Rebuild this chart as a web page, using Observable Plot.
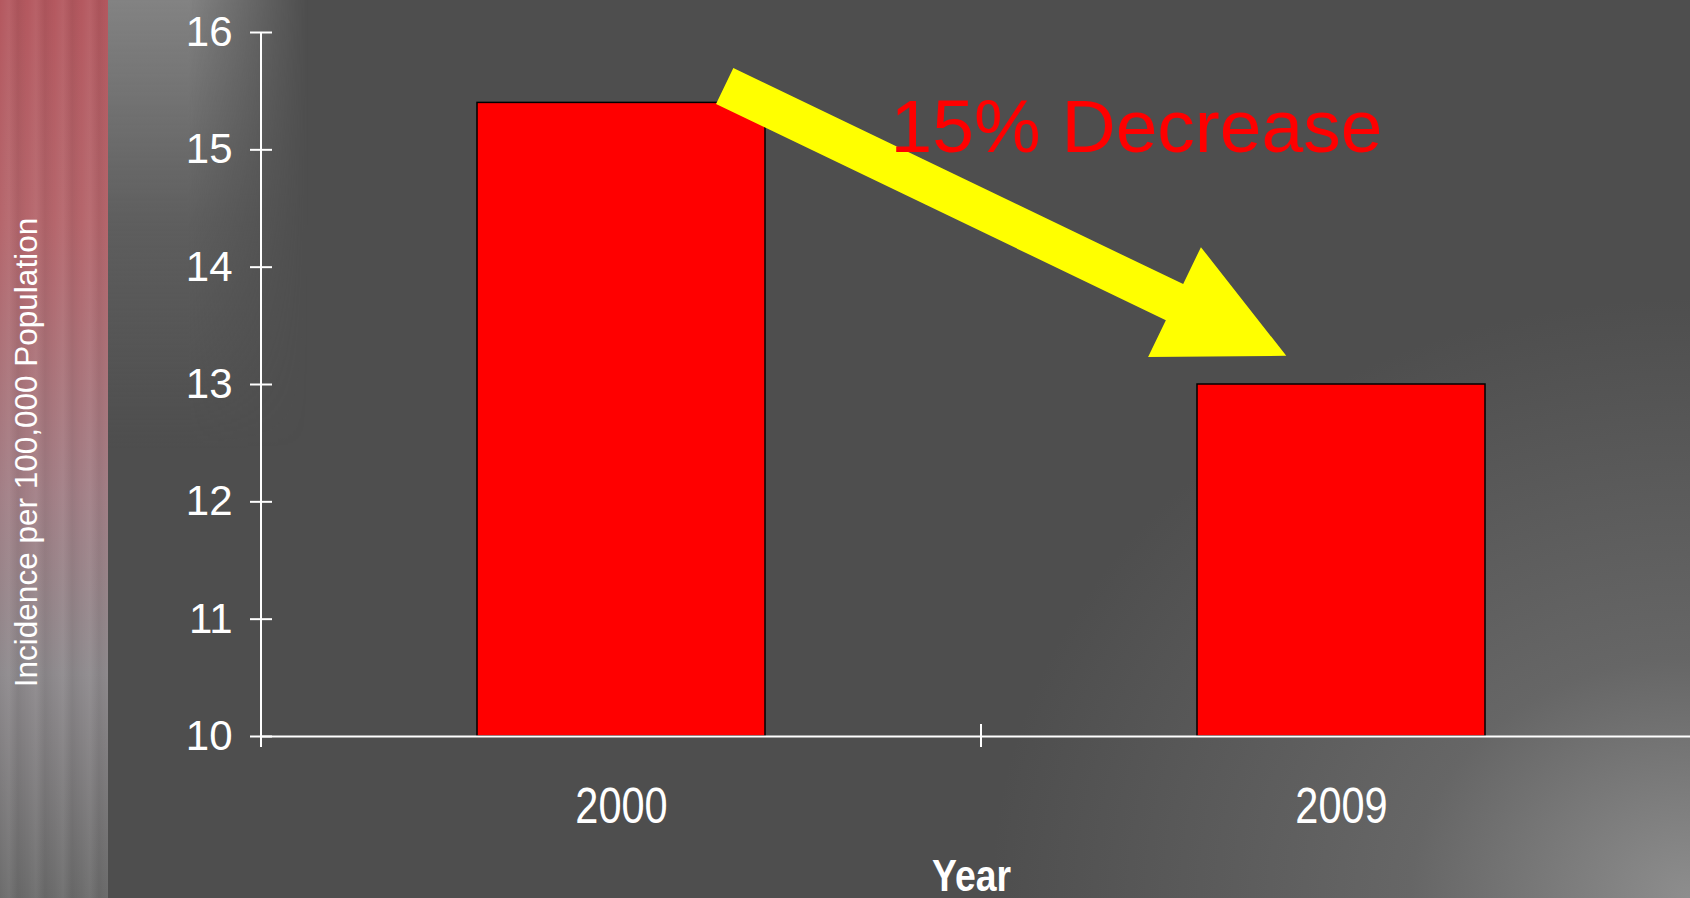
<!DOCTYPE html>
<html>
<head>
<meta charset="utf-8">
<script src="https://cdn.jsdelivr.net/npm/d3@7"></script>
<script src="https://cdn.jsdelivr.net/npm/@observablehq/plot@0.6"></script>
<style>
  html, body { margin: 0; padding: 0; }
  body { width: 1690px; height: 898px; overflow: hidden; position: relative; background: #4e4e4e; }
  #bg1 { position: absolute; left: 0; top: 0; width: 108px; height: 898px;
    background:
      repeating-linear-gradient(to right, rgba(255,255,255,0.00) 0px, rgba(255,255,255,0.05) 9px, rgba(0,0,0,0.05) 18px, rgba(255,255,255,0.0) 27px),
      linear-gradient(to bottom, #b4585f 0%, #b5666c 25%, #a27f86 55%, #8e8a8d 75%, #6c6c6c 100%); }
  #bg2 { position: absolute; left: 108px; top: 0; width: 200px; height: 898px;
    background: linear-gradient(to bottom, rgba(140,140,140,0.85) 0%, rgba(110,110,110,0.5) 25%, rgba(78,78,78,0) 50%);
    -webkit-mask-image: linear-gradient(to right, black 0%, black 40%, transparent 100%);
    mask-image: linear-gradient(to right, black 0%, black 40%, transparent 100%); }
  #bg3 { position: absolute; left: 0; top: 0; width: 1690px; height: 898px;
    background: radial-gradient(ellipse 700px 600px at 1690px 898px, rgba(145,145,145,0.95) 0%, rgba(118,118,118,0.6) 40%, rgba(78,78,78,0) 100%); }
  #chart { position: absolute; left: 0; top: 0; }
</style>
</head>
<body>
<div id="bg1"></div>
<div id="bg2"></div>
<div id="bg3"></div>
<div id="chart"></div>
<script>
// ---- data ----
const years = ["2000", "2009"];
const incidence = [15.4, 13.0];
const yTicks = [10, 11, 12, 13, 14, 15, 16];
const yLabel = "Incidence per 100,000 Population";
const xLabel = "Year";
const annotation = "15% Decrease";
const arrowFrom = {year: "2000", value: 15.54};
const arrowTo = {year: "2009", value: 13.24};

const data = years.map((year, i) => ({year, value: incidence[i]}));

const regular = "'Liberation Sans', Arial, sans-serif";
const condense = 0.83;

function guides(index, scales, values, dimensions) {
  const {x, y} = scales;
  const bw = x.bandwidth();
  const ns = "http://www.w3.org/2000/svg";
  const g = document.createElementNS(ns, "g");
  const line = (x1, y1, x2, y2) => {
    const l = document.createElementNS(ns, "line");
    l.setAttribute("x1", x1); l.setAttribute("y1", y1);
    l.setAttribute("x2", x2); l.setAttribute("y2", y2);
    l.setAttribute("stroke", "white"); l.setAttribute("stroke-width", 2);
    g.appendChild(l);
  };
  const x0 = dimensions.marginLeft;
  const yTop = y(yTicks[yTicks.length - 1]);
  const yBase = y(yTicks[0]);
  line(x0, yTop, x0, yBase + 11);
  const mid = (x(years[0]) + x(years[1]) + bw) / 2;
  line(mid, yBase - 12, mid, yBase + 11);
  // arrow
  const T = [x(arrowFrom.year) + bw / 2 + 0.36 * bw, y(arrowFrom.value)];
  const P = [x(arrowTo.year) + bw / 2 - 0.19 * bw, y(arrowTo.value)];
  const dxv = P[0] - T[0], dyv = P[1] - T[1];
  const len = Math.hypot(dxv, dyv);
  const u = [dxv / len, dyv / len];
  const n = [-u[1], u[0]];
  const hw = 20, hl = 124, hh = 61;
  const B = [P[0] - u[0] * hl, P[1] - u[1] * hl];
  const pts = [
    [T[0] + n[0] * hw, T[1] + n[1] * hw],
    [B[0] + n[0] * hw, B[1] + n[1] * hw],
    [B[0] + n[0] * hh, B[1] + n[1] * hh],
    P,
    [B[0] - n[0] * hh, B[1] - n[1] * hh],
    [B[0] - n[0] * hw, B[1] - n[1] * hw],
    [T[0] - n[0] * hw, T[1] - n[1] * hw]
  ];
  const poly = document.createElementNS(ns, "polygon");
  poly.setAttribute("points", pts.map(p => p.join(",")).join(" "));
  poly.setAttribute("fill", "#ffff00");
  g.appendChild(poly);
  return g;
}

const chart = Plot.plot({
  width: 1690,
  height: 898,
  marginLeft: 261,
  marginRight: -11,
  marginTop: 32,
  marginBottom: 162,
  style: {background: "transparent", color: "white", overflow: "visible"},
  x: {domain: years, paddingInner: 0.6, paddingOuter: 0.3, label: null},
  y: {domain: [10, 16], label: null},
  marks: [
    Plot.barY(data, {x: "year", y1: 10, y2: "value", fill: "#ff0000", stroke: "#000", strokeWidth: 1.5}),
    Plot.ruleY([10], {stroke: "white", strokeWidth: 2}),
    Plot.axisY({ticks: yTicks, tickFormat: d3.format("d"), tickSize: 22, dx: 11, tickPadding: 18, fontSize: 42, fontFamily: regular, strokeWidth: 2, label: null, fill: "white"}),
    Plot.axisX({tickSize: 0, tickPadding: 51, fontSize: 50, fontFamily: regular, label: null, fill: "white"}),
    guides,
    Plot.text([annotation], {x: () => arrowTo.year, y: () => 15.186, dx: -205, fontSize: 75, fontFamily: regular, fill: "#ff0000", lineAnchor: "middle"}),
    Plot.text([yLabel], {frameAnchor: "left", textAnchor: "middle", dx: -235, dy: 68, rotate: -90, fontSize: 31.5, fontFamily: regular, fill: "white", lineAnchor: "middle"}),
    Plot.text([xLabel], {frameAnchor: "bottom", textAnchor: "middle", dx: -10, dy: 140, fontSize: 45, fontWeight: "bold", fontFamily: regular, fill: "white", lineAnchor: "middle"})
  ]
});
document.getElementById("chart").appendChild(chart);

// condensed look for the category labels and the axis title
const condensedTexts = new Set([...years, xLabel]);
chart.querySelectorAll("text").forEach(t => {
  if (condensedTexts.has(t.textContent.trim())) {
    const w = t.getComputedTextLength();
    t.setAttribute("textLength", w * condense);
    t.setAttribute("lengthAdjust", "spacingAndGlyphs");
  }
});
</script>
</body>
</html>
